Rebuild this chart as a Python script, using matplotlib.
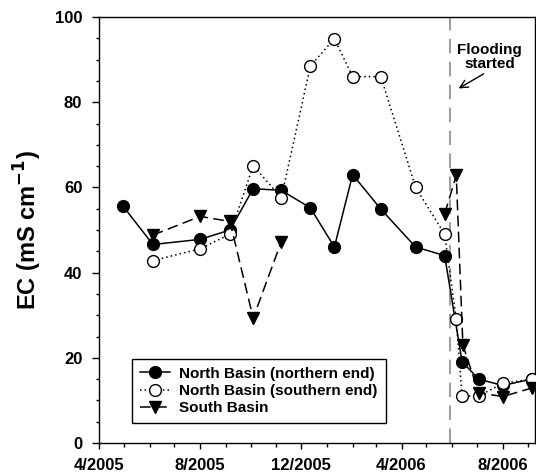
import numpy as np
import pandas as pd
import matplotlib
matplotlib.use("Agg")
import matplotlib.pyplot as plt
import matplotlib.dates as mdates
from matplotlib.ticker import MultipleLocator

plt.rcParams['font.family'] = ['Liberation Sans', 'DejaVu Sans']
plt.rcParams['font.weight'] = 'bold'

# ---- data ----
north_n_dates = ['2005-04-30', '2005-06-05', '2005-08-01', '2005-09-06', '2005-10-04',
                 '2005-11-07', '2005-12-12', '2006-01-10', '2006-02-01', '2006-03-07',
                 '2006-04-18', '2006-05-23', '2006-06-13', '2006-07-03', '2006-08-01',
                 '2006-09-05']
north_n_vals = [55.6, 46.6, 47.8, 50.0, 59.7, 59.3, 55.2, 46.0, 63.0, 54.9,
                46.0, 44.0, 19.1, 15.0, 13.5, 15.0]

north_s_dates = ['2005-06-05', '2005-08-01', '2005-09-06', '2005-10-04', '2005-11-07',
                 '2005-12-12', '2006-01-10', '2006-02-01', '2006-03-07', '2006-04-18',
                 '2006-05-23', '2006-06-06', '2006-06-13', '2006-07-03', '2006-08-01',
                 '2006-09-05']
north_s_vals = [42.8, 45.6, 49.0, 65.1, 57.6, 88.5, 94.9, 86.0, 86.0, 60.0,
                49.0, 29.0, 11.0, 11.0, 14.0, 15.0]

south_dates = ['2005-06-05', '2005-08-01', '2005-09-06', '2005-10-04', '2005-11-07',
               '2006-01-01', '2006-05-23', '2006-06-06', '2006-06-14', '2006-07-03',
               '2006-08-01', '2006-09-05']
south_vals = [48.8, 53.2, 52.0, 29.3, 47.3, np.nan, 53.8, 62.8, 23.0, 11.8, 10.9, 12.9]

flood_date = '2006-05-30'
x_start, x_end = '2005-04-01', '2006-09-09'

labels = ['North Basin (northern end)', 'North Basin (southern end)', 'South Basin']

# ---- figure ----
fig = plt.figure(figsize=(5.36, 4.74), dpi=100)
ax = fig.add_axes([99/536, 1-443/474, (535-99)/536, (443-17)/474])

nd = pd.to_datetime(north_n_dates)
sd = pd.to_datetime(north_s_dates)
bd = pd.to_datetime(south_dates)

ax.axvline(pd.Timestamp(flood_date), color='#a0a0a0', lw=1.5, ls=(0, (7, 4)), zorder=1)

ax.plot(nd, north_n_vals, color='black', lw=1.1, ls='-', marker='o', ms=8.5,
        mfc='black', mec='black', mew=1.0, label=labels[0], zorder=3)
ax.plot(sd, north_s_vals, color='black', lw=1.1, ls=(0, (1, 2)), marker='o', ms=8.5,
        mfc='white', mec='black', mew=1.0, label=labels[1], zorder=4)
ax.plot(bd, south_vals, color='black', lw=1.1, ls=(0, (7, 3.5)), marker='v', ms=9,
        mfc='black', mec='black', mew=1.0, label=labels[2], zorder=5)

ax.set_xlim(pd.Timestamp(x_start), pd.Timestamp(x_end))
ax.set_ylim(0, 100)

ax.yaxis.set_major_locator(MultipleLocator(20))
ax.yaxis.set_minor_locator(MultipleLocator(5))
ax.xaxis.set_major_locator(mdates.MonthLocator(bymonth=[4, 8, 12]))
ax.xaxis.set_minor_locator(mdates.MonthLocator())
ax.xaxis.set_major_formatter(mdates.DateFormatter('%-m/%Y'))

ax.tick_params(axis='y', which='major', direction='out', length=5, width=1, pad=7, labelsize=12)
ax.tick_params(axis='y', which='minor', direction='out', length=2.5, width=1)
ax.tick_params(axis='x', which='major', direction='out', length=4, width=1, pad=7, labelsize=12)
ax.tick_params(axis='x', which='minor', direction='out', length=3, width=1)
for lab in ax.get_xticklabels() + ax.get_yticklabels():
    lab.set_fontweight('bold')

for sp in ax.spines.values():
    sp.set_linewidth(1.0)

ax.set_ylabel(r'EC (mS cm$^{\mathbf{-1}}$)', fontsize=17, fontweight='bold', labelpad=8)

leg = ax.legend(loc='lower left', bbox_to_anchor=(0.076, 0.047), fontsize=11,
                frameon=True, fancybox=False, edgecolor='black', framealpha=1,
                handlelength=2.0, labelspacing=0.22, borderpad=0.5, handletextpad=0.6,
                markerscale=1.0, borderaxespad=0)
leg.get_frame().set_linewidth(1.0)
for t in leg.get_texts():
    t.set_fontweight('bold')

ax.text(pd.Timestamp('2006-07-16'), 90.5, 'Flooding\nstarted', ha='center', va='center',
        fontsize=11, fontweight='bold', linespacing=1.0)
ax.annotate('', xy=(pd.Timestamp('2006-06-06'), 82.9), xytext=(pd.Timestamp('2006-07-12'), 87.0),
            arrowprops=dict(arrowstyle='->', color='black', lw=1.0, mutation_scale=14))

fig.savefig('out.png', dpi=100)
